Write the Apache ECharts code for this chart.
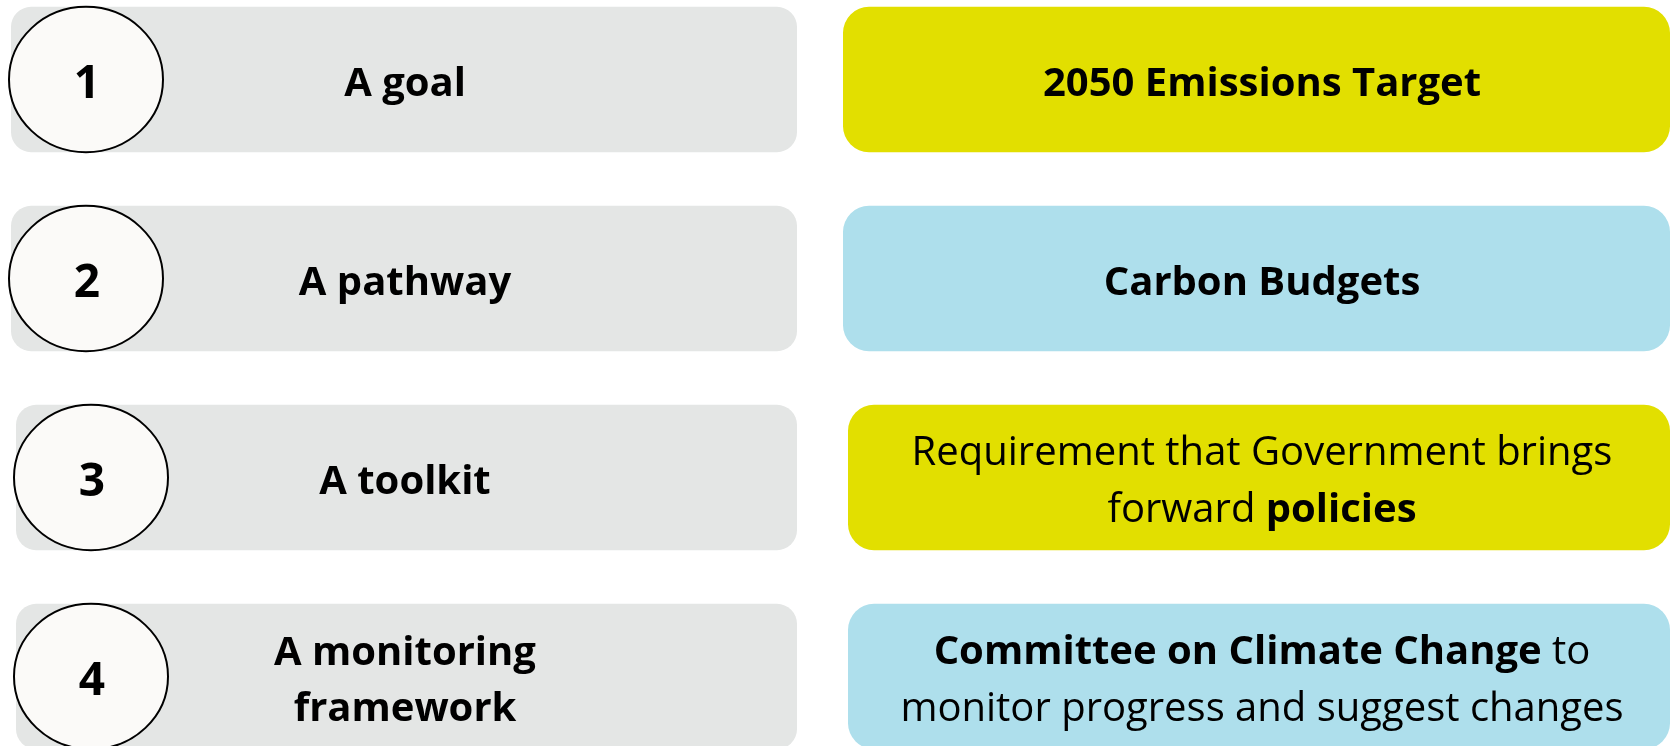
<!DOCTYPE html>
<html>
<head>
<meta charset="utf-8">
<script src="https://cdn.jsdelivr.net/npm/echarts@6/dist/echarts.min.js"></script>
<style>
html, body { margin: 0; padding: 0; background: #fff; }
#main { width: 1672px; height: 746px; }
</style>
</head>
<body>
<div id="main"></div>
<script>
let stepNumbers = ['1', '2', '3', '4'];
let stepRoles = ['A goal', 'A pathway', 'A toolkit', 'A monitoring\nframework'];
let stepMechanisms = [
    '{b|2050 Emissions Target}',
    '{b|Carbon Budgets}',
    'Requirement that Government brings\nforward {b|policies}',
    '{b|Committee on Climate Change} to\nmonitor progress and suggest changes'
];

const FONT = '"Open Sans", sans-serif';

function renderStep(params, api) {
    let i = api.value(1);
    let cy = api.coord([0, i])[1];
    let band = api.size([0, 1])[1];
    let h = band * 0.73;
    let top = cy - h / 2;
    // Open Sans sits a bit high, nudge text down
    let ty = cy + 5;
    // lower two rows sit a few px further right in the original
    let shift = i >= 2 ? 5 : 0;
    return {
        type: 'group',
        children: [
            {
                type: 'rect',
                shape: { x: 11 + shift, y: top, width: 786 - shift, height: h, r: 20 },
                style: { fill: '#e4e6e5' }
            },
            {
                type: 'rect',
                shape: { x: 843 + shift, y: top, width: 827 - shift, height: h, r: 26 },
                style: { fill: i % 2 === 0 ? '#e2df00' : '#aedfec' }
            },
            {
                type: 'ellipse',
                shape: { cx: 86 + shift, cy: cy, rx: 77, ry: h / 2 },
                style: { fill: '#fbfaf8', stroke: '#000', lineWidth: 2 }
            },
            {
                type: 'text',
                style: {
                    text: stepNumbers[i], x: 87 + shift, y: ty,
                    align: 'center', verticalAlign: 'middle',
                    fontSize: 46, fontWeight: 'bold', fontFamily: FONT, fill: '#000'
                }
            },
            {
                type: 'text',
                style: {
                    text: stepRoles[i], x: 405, y: ty,
                    align: 'center', verticalAlign: 'middle', lineHeight: 56,
                    fontSize: 40, fontWeight: 'bold', fontFamily: FONT, fill: '#000'
                }
            },
            {
                type: 'text',
                style: {
                    text: stepMechanisms[i], x: 1262, y: ty,
                    align: 'center', verticalAlign: 'middle', lineHeight: 57,
                    fontSize: 40, fontFamily: FONT, fill: '#000',
                    rich: {
                        b: { fontSize: 40, fontWeight: 'bold', fontFamily: FONT, lineHeight: 57, fill: '#000' }
                    }
                }
            }
        ]
    };
}

var myChart = echarts.init(document.getElementById('main'));
var option = {
    animation: false,
    grid: { left: 0, right: 0, top: -20, bottom: -30, outerBoundsMode: 'none', containLabel: false },
    xAxis: { type: 'value', min: 0, max: 1, show: false },
    yAxis: { type: 'category', data: stepNumbers, inverse: true, show: false },
    series: [
        {
            type: 'custom',
            renderItem: renderStep,
            encode: { x: 0, y: 1 },
            data: stepNumbers.map((n, i) => [0, i])
        }
    ]
};
myChart.setOption(option);
</script>
</body>
</html>
